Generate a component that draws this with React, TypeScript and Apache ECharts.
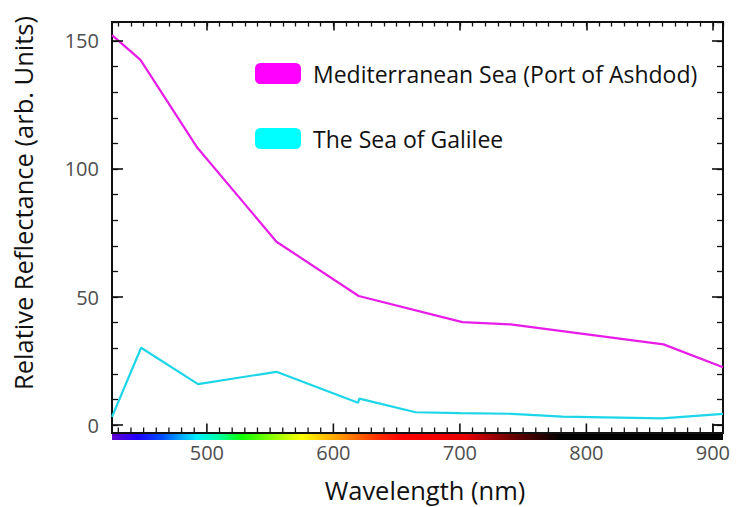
import React, { useEffect, useRef } from "react";
import * as echarts from "echarts";

const medWavelengths = [425, 447.5, 492, 555, 620, 702, 740, 861, 908];
const medValues = [152.3, 142.6, 108.6, 71.6, 50.4, 40.2, 39.3, 31.5, 22.6];
const galWavelengths = [425, 448, 493, 555, 619.5, 620.5, 665, 700, 741, 781, 860, 908];
const galValues = [3.2, 30.2, 16.0, 20.8, 8.7, 10.3, 5.0, 4.7, 4.4, 3.3, 2.6, 4.4];
const seriesNames = ["Mediterranean Sea (Port of Ashdod)", "The Sea of Galilee"];
const xLabelTicks = [500, 600, 700, 800, 900];
const yLabelTicks = [0, 50, 100, 150];
const xMinorTicks = [
  430, 440, 450, 460, 470, 480, 490, 510, 520, 530, 540, 550, 560, 570, 580, 590, 610, 620, 630, 640, 650, 660,
  670, 680, 690, 710, 720, 730, 740, 750, 760, 770, 780, 790, 810, 820, 830, 840, 850, 860, 870, 880, 890,
];

const FONT = "'Open Sans', 'Noto Sans', sans-serif";
const X_MIN = 425;
const X_MAX = 908;
const Y_MIN = -3.1;
const Y_MAX = 157.4;
const PLOT_L = 112;
const PLOT_R = 723;
const PLOT_T = 22;
const PLOT_B = 433;
const W = 736;
const H = 507;

export default function App() {
  const ref = useRef<HTMLDivElement>(null);
  useEffect(() => {
    if (!ref.current) return;
    const chart = echarts.init(ref.current, undefined, { renderer: "svg" });
    const pxPerNm = (PLOT_R - PLOT_L) / (X_MAX - X_MIN);
    const pxPerUnit = (PLOT_B - PLOT_T) / (Y_MAX - Y_MIN);
    const zeroY = PLOT_B + Y_MIN * pxPerUnit; // y pixel of value 0
    const minorLeft = PLOT_L + (430 - X_MIN) * pxPerNm;
    const majorLeft = PLOT_L + (500 - X_MIN) * pxPerNm;
    const right = W - PLOT_R;
    const tickColor = "#111111";
    const labelColor = "#4e4e4e";

    const hidden = () => ({ show: false });
    const noLine = () => ({ show: false, onZero: false });
    const dummy = (grid: number) => ({
      type: "value",
      gridIndex: grid,
      show: false,
      min: 1,
      max: 2,
      axisLine: noLine(),
      splitLine: hidden(),
    });
    const mkX = (
      grid: number,
      pos: "top" | "bottom",
      min: number,
      interval: number,
      len: number,
      showTicks: boolean,
      labels: boolean
    ) => ({
      type: "value",
      gridIndex: grid,
      position: pos,
      z: 10,
      min,
      max: X_MAX,
      interval,
      axisLine: noLine(),
      splitLine: hidden(),
      axisTick: showTicks
        ? { show: true, inside: true, length: len, lineStyle: { color: tickColor, width: len > 6 ? 1.6 : 1.3 } }
        : hidden(),
      axisLabel: labels
        ? {
            show: true,
            margin: 9,
            color: labelColor,
            fontSize: 20,
            fontFamily: FONT,
            showMaxLabel: false,
            showMinLabel: true,
            formatter: (v: number) => (xLabelTicks.indexOf(v) >= 0 ? String(v) : ""),
          }
        : hidden(),
    });
    const mkY = (grid: number, pos: "left" | "right", interval: number, len: number, labels: boolean) => ({
      type: "value",
      gridIndex: grid,
      position: pos,
      z: 10,
      min: 0,
      max: Y_MAX,
      interval,
      axisLine: noLine(),
      splitLine: hidden(),
      axisTick: { show: true, inside: true, length: len, lineStyle: { color: tickColor, width: len > 7 ? 1.6 : 1.3 } },
      axisLabel: labels
        ? {
            show: true,
            margin: 13,
            color: labelColor,
            fontSize: 20,
            fontFamily: FONT,
            showMaxLabel: false,
            formatter: (v: number) => (yLabelTicks.indexOf(v) >= 0 ? String(v) : ""),
          }
        : hidden(),
    });

    const f = (lambda: number) => (lambda - X_MIN) / (X_MAX - X_MIN);
    const spectrumStops = [
      [425, "#6400d0"],
      [445, "#2000ff"],
      [465, "#0050ff"],
      [492, "#00f0ff"],
      [510, "#00ffa0"],
      [528, "#10ff00"],
      [555, "#9cff00"],
      [575, "#ffff00"],
      [605, "#ff9800"],
      [635, "#ff3000"],
      [655, "#ff0000"],
      [705, "#e80000"],
      [740, "#700000"],
      [780, "#000000"],
      [908, "#000000"],
    ].map(([l, c]) => ({ offset: f(l as number), color: c as string }));

    const bottomTickData = [
      ...xMinorTicks.map((v) => [v, 0]),
      ...xLabelTicks.map((v) => [v, 1]),
    ];

    chart.setOption({
      animation: false,
      backgroundColor: "#ffffff",
      grid: [
        {
          left: PLOT_L,
          right,
          top: PLOT_T,
          bottom: H - PLOT_B,
          show: true,
          borderColor: tickColor,
          borderWidth: 2,
        },
        { left: minorLeft, right, top: PLOT_T, bottom: H - PLOT_B },
        { left: majorLeft, right, top: PLOT_T, bottom: H - PLOT_B },
        { left: PLOT_L, right, top: PLOT_T, bottom: H - zeroY },
        { left: PLOT_L, right, top: PLOT_T, bottom: H - zeroY },
      ],
      xAxis: [
        {
          type: "value",
          gridIndex: 0,
          min: X_MIN,
          max: X_MAX,
          show: false,
          axisLine: noLine(),
          splitLine: hidden(),
        },
        mkX(1, "top", 430, 10, 4.5, true, false),
        mkX(2, "top", 500, 100, 8.5, true, false),
        mkX(2, "bottom", 500, 100, 8.5, false, true),
        dummy(3),
        dummy(4),
      ],
      yAxis: [
        {
          type: "value",
          gridIndex: 0,
          min: Y_MIN,
          max: Y_MAX,
          show: false,
          axisLine: noLine(),
          splitLine: hidden(),
        },
        dummy(1),
        dummy(2),
        mkY(3, "left", 10, 6, false),
        mkY(3, "right", 10, 6, false),
        mkY(4, "left", 50, 11, true),
        mkY(4, "right", 50, 11, false),
      ],
      legend: {
        orient: "vertical",
        left: 250,
        top: 57,
        icon: "roundRect",
        itemWidth: 46,
        itemHeight: 21,
        itemGap: 42,
        textStyle: { fontSize: 23, fontFamily: FONT, color: "#111", padding: [0, 0, 0, 7] },
        data: [
          { name: seriesNames[0], itemStyle: { color: "#ff00ff" } },
          { name: seriesNames[1], itemStyle: { color: "#00ffff" } },
        ],
      },
      series: [
        {
          name: seriesNames[0],
          type: "line",
          xAxisIndex: 0,
          yAxisIndex: 0,
          data: medWavelengths.map((w, i) => [w, medValues[i]]),
          showSymbol: false,
          symbol: "none",
          itemStyle: { color: "#ff00ff" },
          lineStyle: { color: "#e81ce8", width: 2.2 },
        },
        {
          name: seriesNames[1],
          type: "line",
          xAxisIndex: 0,
          yAxisIndex: 0,
          data: galWavelengths.map((w, i) => [w, galValues[i]]),
          showSymbol: false,
          symbol: "none",
          itemStyle: { color: "#00ffff" },
          lineStyle: { color: "#1cd6e8", width: 2.2 },
        },
        {
          type: "custom",
          xAxisIndex: 0,
          yAxisIndex: 0,
          z: 100,
          silent: true,
          clip: false,
          data: bottomTickData,
          renderItem: (_params: any, api: any) => {
            const v = api.value(0);
            const major = api.value(1) === 1;
            const p = api.coord([v, Y_MIN]);
            const len = major ? 8.5 : 4.5;
            return {
              type: "line",
              shape: { x1: p[0], y1: p[1] - 1, x2: p[0], y2: p[1] - 1 - len },
              style: { stroke: tickColor, lineWidth: major ? 1.6 : 1.3 },
            };
          },
        },
      ],
      graphic: [
        {
          type: "rect",
          z: 1,
          shape: { x: PLOT_L, y: PLOT_B + 1, width: PLOT_R - PLOT_L, height: 6 },
          style: {
            fill: new echarts.graphic.LinearGradient(0, 0, 1, 0, spectrumStops),
          },
          silent: true,
        },
        {
          type: "rect",
          z: 1,
          shape: { x: PLOT_R - 10, y: PLOT_B - 8, width: 10, height: 8 },
          style: { fill: "none", stroke: tickColor, lineWidth: 1.5 },
          silent: true,
        },
        {
          type: "text",
          x: 23,
          y: 203,
          rotation: Math.PI / 2,
          style: {
            text: "Relative Reflectance (arb. Units)",
            font: `25.5px ${FONT}`,
            fill: "#111",
            textAlign: "center",
            textVerticalAlign: "middle",
          },
        },
        {
          type: "text",
          x: 425,
          y: 490,
          style: {
            text: "Wavelength (nm)",
            font: `25.5px ${FONT}`,
            fill: "#111",
            textAlign: "center",
            textVerticalAlign: "middle",
          },
        },
      ],
    });
    return () => chart.dispose();
  }, []);
  return <div ref={ref} style={{ width: W, height: H, position: "absolute", left: 0, top: 0 }} />;
}
